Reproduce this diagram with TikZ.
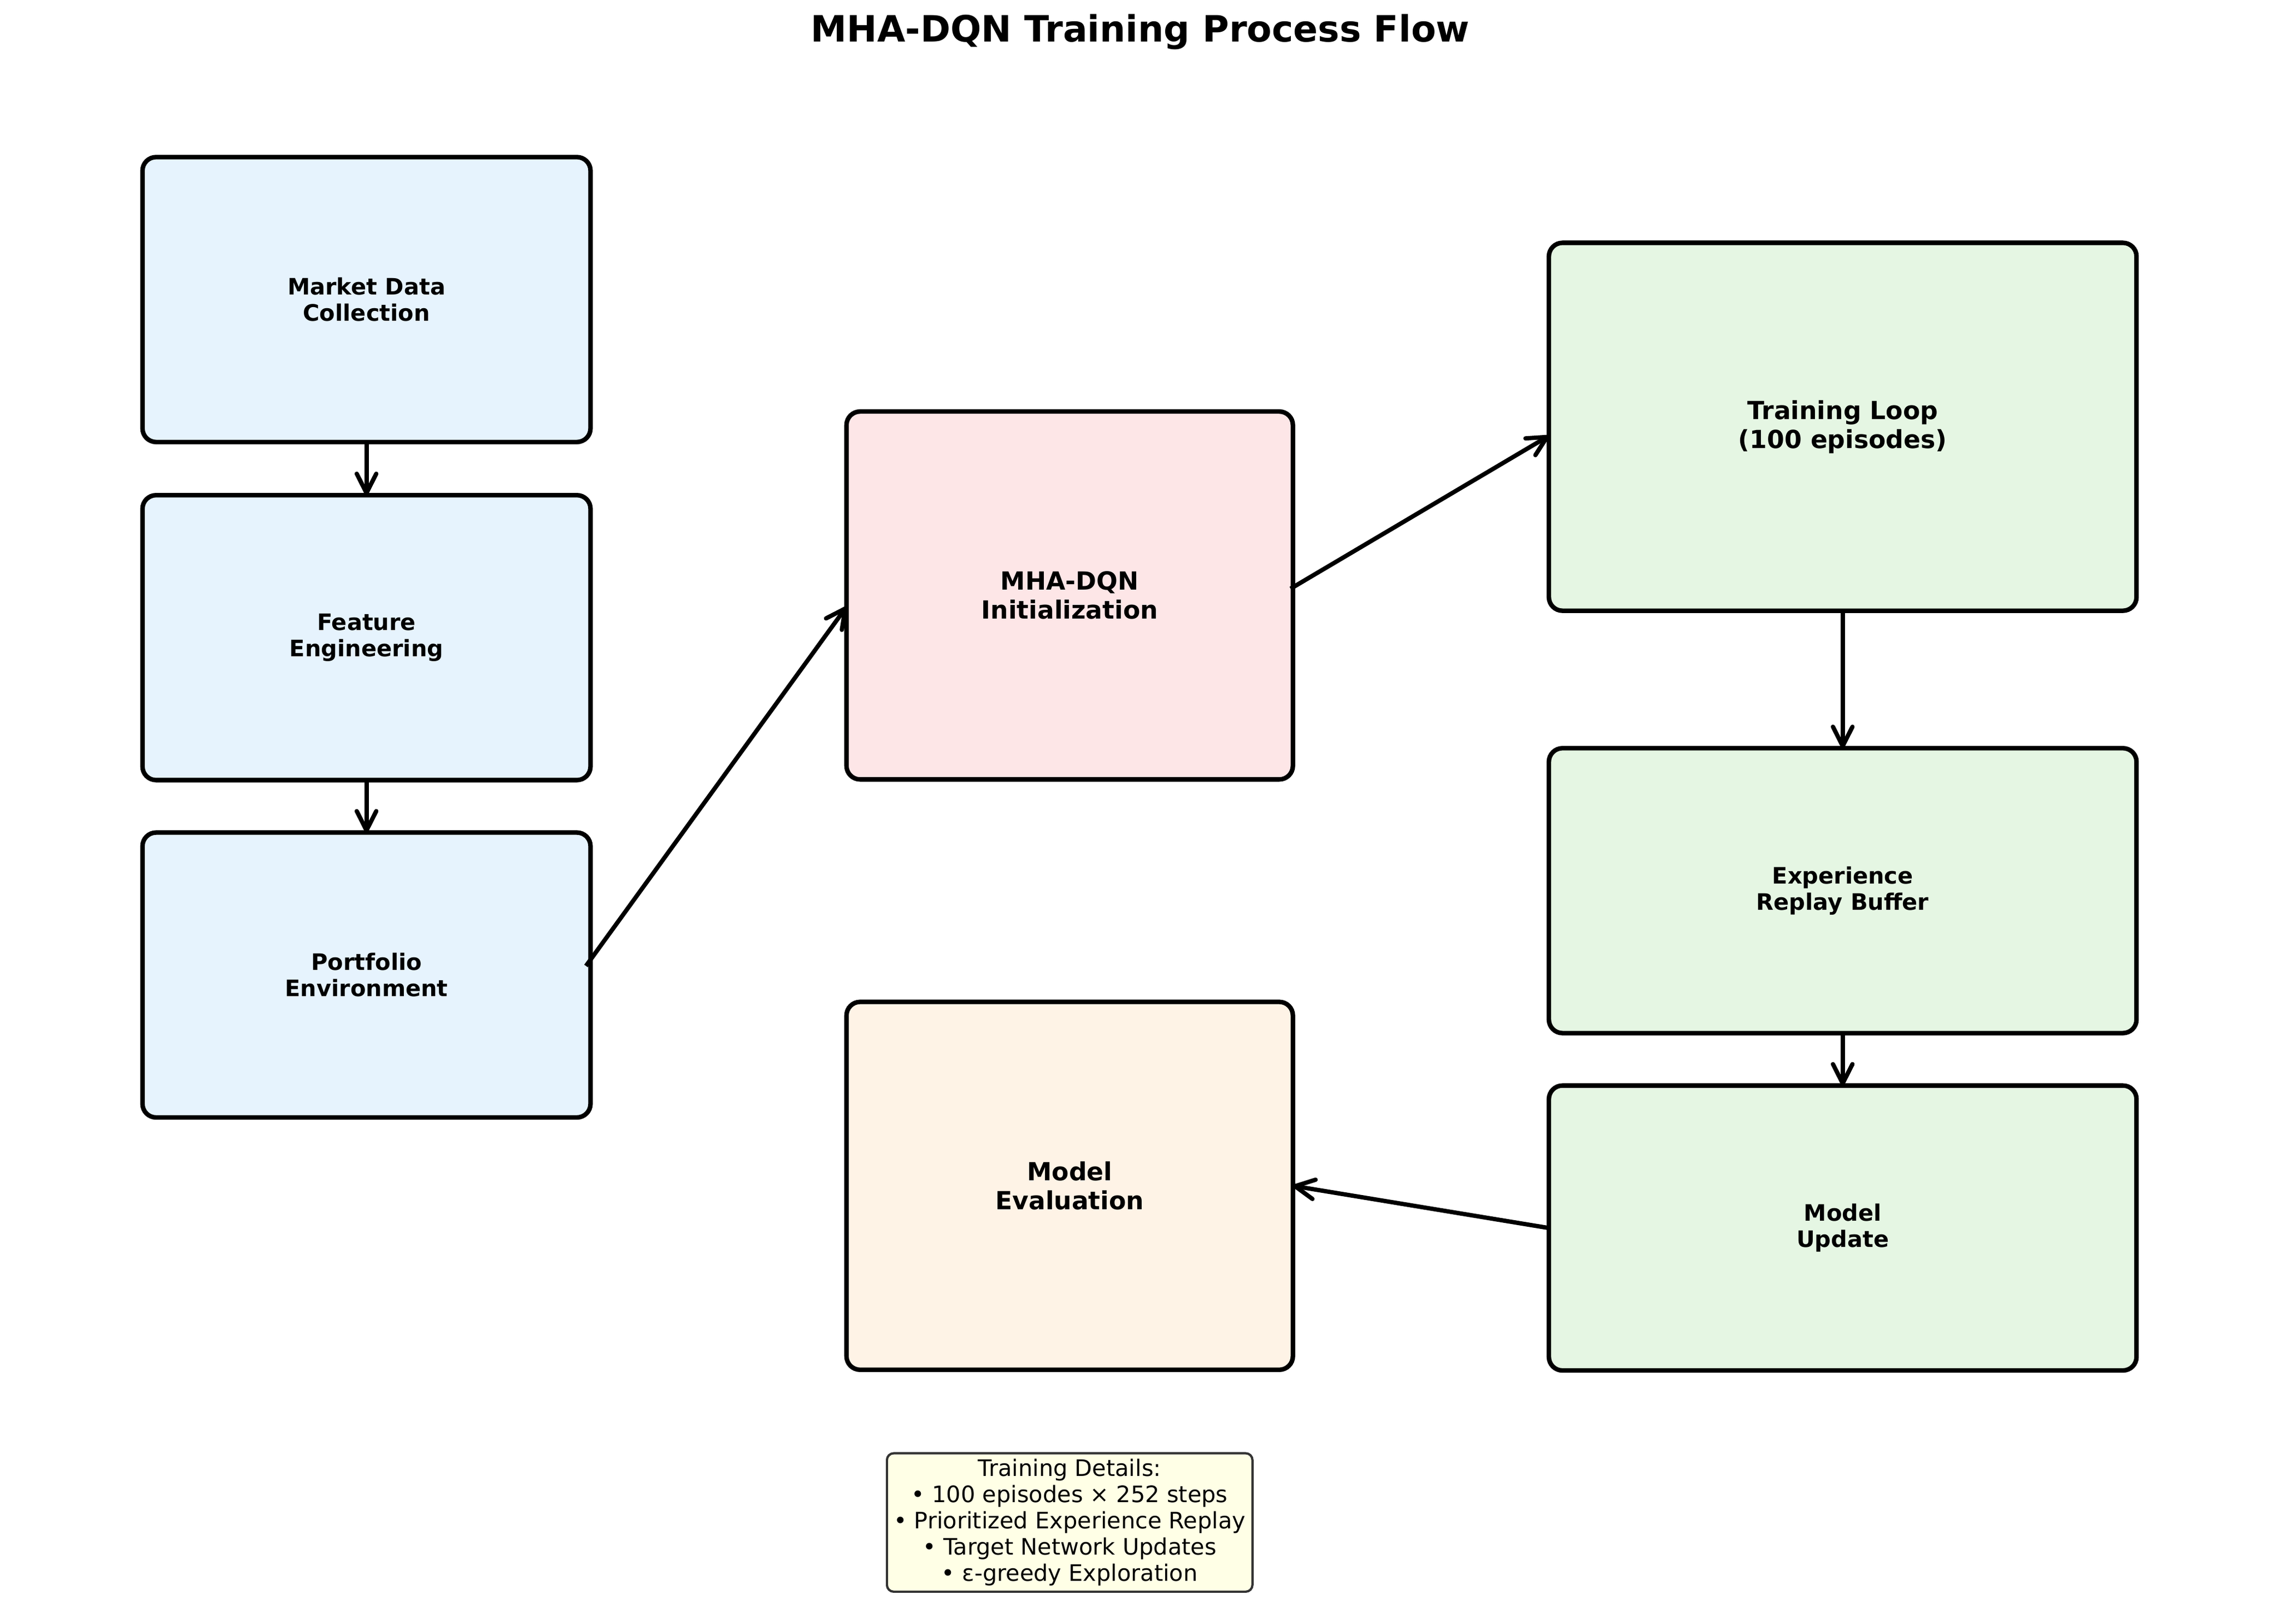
\documentclass[tikz,border=0pt]{standalone}
\usepackage{fontspec}
\setmainfont{DejaVu Sans}
\usetikzlibrary{arrows.meta}
\definecolor{databg}{HTML}{E6F3FD}
\definecolor{initbg}{HTML}{FDE6E7}
\definecolor{loopbg}{HTML}{E5F6E3}
\definecolor{evalbg}{HTML}{FEF3E6}
\definecolor{notebg}{HTML}{FFFFE6}
\definecolor{noteedge}{HTML}{333333}
\tikzset{
  stage/.style={draw=black, line width=2pt, rounded corners=6pt, outer sep=0pt,
    align=center, font=\bfseries\fontsize{10}{11.5}\selectfont},
  bigstage/.style={stage, font=\bfseries\fontsize{11}{12.8}\selectfont},
  flow/.style={line width=1.9pt, -{Straight Barb[length=8.5pt, width=8.6pt, round]}},
}
\begin{document}
\begin{tikzpicture}[x=0.6415pt, y=0.6415pt, yscale=-1]
                \useasboundingbox (0,0) rectangle (1567,1116.5);
                \node (title) at (784, 22) {\bfseries\fontsize{16}{19}\selectfont MHA-DQN Training Process Flow};
                \node [stage, fill=databg, minimum width=197.6pt, minimum height=125.7pt] (data) at (252, 206) {Market Data\\Collection};
                \node [stage, fill=databg, minimum width=197.6pt, minimum height=125.7pt] (feat) at (252, 438.5) {Feature\\Engineering};
                \node [stage, fill=databg, minimum width=197.6pt, minimum height=125.7pt] (env) at (252, 670.5) {Portfolio\\Environment};
                \node [bigstage, fill=initbg, minimum width=196.9pt, minimum height=162.3pt] (init) at (735.5, 409.5) {MHA-DQN\\Initialization};
                \node [bigstage, fill=loopbg, minimum width=259.2pt, minimum height=162.3pt] (loop) at (1267, 293.5) {Training Loop\\(100 episodes)};
                \node [stage, fill=loopbg, minimum width=259.2pt, minimum height=125.7pt] (replay) at (1267, 612.5) {Experience\\Replay Buffer};
                \node [stage, fill=loopbg, minimum width=259.2pt, minimum height=125.7pt] (update) at (1267, 844.5) {Model\\Update};
                \node [bigstage, fill=evalbg, minimum width=196.9pt, minimum height=162.3pt] (eval) at (735.5, 815.5) {Model\\Evaluation};
                \node [draw=noteedge, fill=notebg, line width=1pt, rounded corners=3pt, align=center, inner xsep=3pt, inner ysep=2.6pt,
                  font=\fontsize{10}{11.55}\selectfont] (notes) at (735.5, 1047) {Training Details:\\• 100 episodes × 252 steps\\• Prioritized Experience Replay\\• Target Network Updates\\• ε-greedy Exploration};
                \draw [flow] (data.south) to (feat.north);
                \draw [flow] (feat.south) to (env.north);
                \draw [flow] ([xshift=-2pt, yshift=-4pt]env.east) to ([yshift=5pt]init.west);
                \draw [flow] ([xshift=-1pt, yshift=-3pt]init.east) to ([yshift=4pt]loop.west);
                \draw [flow] (loop.south) to (replay.north);
                \draw [flow] (replay.south) to (update.north);
                \draw [flow] (update.west) to (eval.east);
\end{tikzpicture}
\end{document}
